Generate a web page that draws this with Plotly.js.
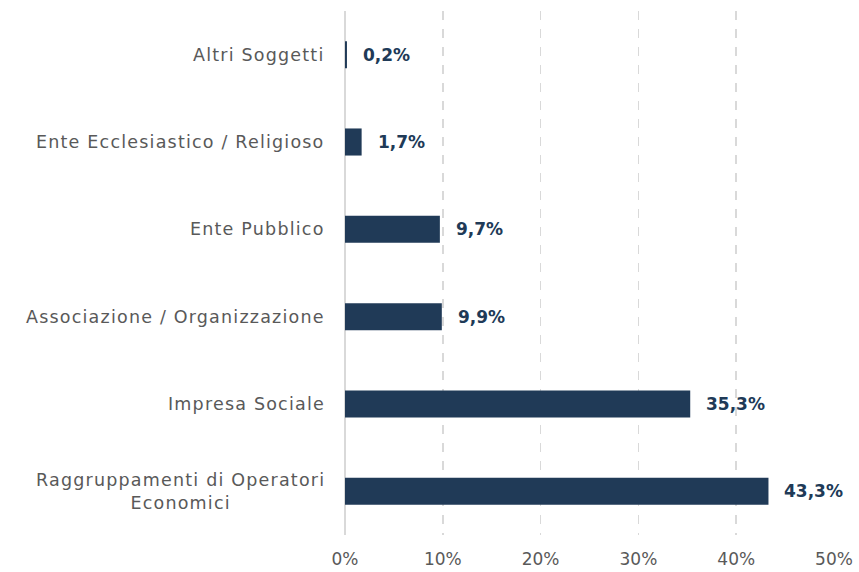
<!DOCTYPE html>
<html><head><meta charset="utf-8">
<script src="https://cdn.plot.ly/plotly-3.0.1.min.js"></script>
<style>body{margin:0;background:#fff}#chart{width:859px;height:572px}
text[style*="Verdana"]{letter-spacing:1.2px}</style>
</head><body><div id="chart"></div>
<script>
const categories = ["Raggruppamenti di Operatori<br>Economici", "Impresa Sociale", "Associazione / Organizzazione", "Ente Pubblico", "Ente Ecclesiastico / Religioso", "Altri Soggetti"];
const values = [43.3, 35.3, 9.9, 9.7, 1.7, 0.2];
const valueLabels = ["43,3%", "35,3%", "9,9%", "9,7%", "1,7%", "0,2%"];
const xTicks = [0, 10, 20, 30, 40, 50];
const xTickLabels = ["0%", "10%", "20%", "30%", "40%", "50%"];

const FONT = "DejaVu Sans, sans-serif";
const CAT_FONT = "DejaVu Sans, Verdana, sans-serif";
const BAR = "#203a57";

const annotations = [];
values.forEach((v, i) => {
  annotations.push({x: v, y: categories[i], xref: "x", yref: "y", text: "<b>" + valueLabels[i] + "</b>",
    showarrow: false, xanchor: "left", xshift: 14, font: {family: FONT, size: 17, color: BAR}});
  annotations.push({x: 0, y: categories[i], xref: "paper", yref: "y", text: categories[i],
    showarrow: false, xanchor: "right", align: "center", xshift: -18, font: {family: CAT_FONT, size: 17.5, color: "#595959"}});
});

Plotly.newPlot("chart", [{
  type: "bar", orientation: "h", x: values, y: categories,
  marker: {color: BAR}, width: 0.31, hoverinfo: "none"
}], {
  width: 859, height: 572,
  margin: {l: 345, r: 25, t: 11, b: 37},
  paper_bgcolor: "#fff", plot_bgcolor: "#fff",
  showlegend: false,
  xaxis: {range: [0, 50], tickvals: xTicks, ticktext: xTickLabels, showgrid: true, gridcolor: "#d9d9d9",
    griddash: "dash", gridwidth: 1.5, zeroline: true, zerolinecolor: "#d9d9d9", zerolinewidth: 1.5,
    tickfont: {family: FONT, size: 17, color: "#595959"}, ticks: "", ticklabelstandoff: 12,
    fixedrange: true, showline: false},
  yaxis: {type: "category", categoryorder: "array", categoryarray: categories, range: [-0.5, 5.5],
    showticklabels: false, showgrid: false, zeroline: false, showline: false, ticks: ""},
  annotations: annotations
}, {displayModeBar: false, staticPlot: true});
</script></body></html>
